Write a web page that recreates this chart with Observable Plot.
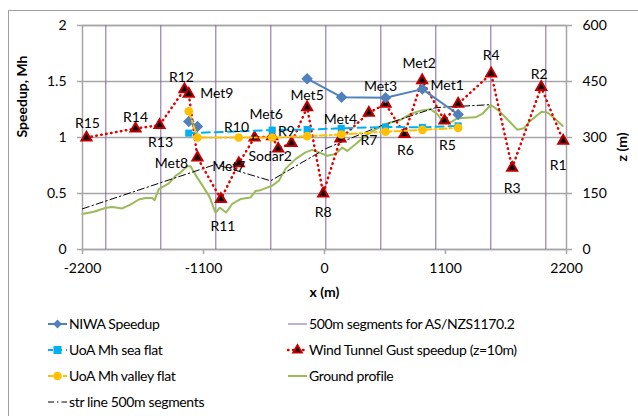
<!DOCTYPE html>
<html>
<head>
<meta charset="utf-8">
<script src="https://cdn.jsdelivr.net/npm/d3@7"></script>
<script src="https://cdn.jsdelivr.net/npm/@observablehq/plot@0.6"></script>
<style>
  body { margin: 0; background: #fff; }
  #wrap { position: relative; width: 638px; height: 416px; overflow: hidden; font-family: Lato, sans-serif; }
  #frame { position: absolute; left: 8px; top: 10px; width: 700px; height: 500px; border: 1px solid #a0a0a0; }
  #chart { position: absolute; left: 0; top: 0; }
  #legend { position: absolute; left: 0; top: 310px; }
</style>
</head>
<body>
<div id="wrap"><div id="frame"></div><div id="chart"></div><svg id="legend" width="638" height="106"></svg></div>
<script>
// ---------- data ----------
const xTicks = [-2200, -1100, 0, 1100, 2200];
const speedTicks = [0, 0.5, 1, 1.5, 2];
const zPerSpeed = 300; // right axis: 0..600 m

// Wind Tunnel Gust speedup (z=10m)
const windNames = ["R15","R14","R13","R12","Met9","Met8","R11","Met7","R10","Met6","Sodar2","R9","Met5","R8","Met4","R7","Met3","R6","Met2","R5","Met1","R4","R3","R2","R1"];
const windX = [-2164,-1718,-1500,-1273,-1234,-1155,-942,-779,-636,-476,-421,-300,-158,-12,145,403,555,727,888,1091,1215,1515,1706,1970,2170];
const windY = [1.00,1.08,1.11,1.43,1.39,0.82,0.45,0.77,1.00,1.01,0.90,0.95,1.27,0.50,0.99,1.22,1.30,1.03,1.51,1.15,1.30,1.57,0.73,1.45,0.97];

// NIWA Speedup (null = gap)
const niwaX = [-1234,-1155,null,-158,155,555,890,1215];
const niwaY = [1.143,1.098,null,1.525,1.360,1.355,1.432,1.205];

// UoA Mh sea flat
const seaX = [-1234,-476,-158,152,555,890,1215];
const seaY = [1.039,1.066,1.071,1.082,1.094,1.090,1.104];

// UoA Mh valley flat
const valleyX = [-1234,-1155,-779,-476,-158,152,555,890,1215];
const valleyY = [1.235,1.000,1.000,1.000,1.012,1.027,1.052,1.068,1.086];

// Ground profile (z, m)
const groundX = [-2200,-2097,-1985,-1927,-1839,-1764,-1688,-1627,-1566,-1545,-1506,-1415,-1355,-1309,-1248,-1218,-1173,-1109,-1045,-991,-952,-894,-839,-764,-673,-627,-582,-475,-415,-355,-264,-173,-112,-52,24,100,161,206,282,373,464,555,600,691,782,873,964,1024,1070,1130,1206,1282,1373,1434,1512,1585,1661,1752,1812,1873,1973,2027,2100,2166];
const groundZ = [95,101,112,114,110,120,134,138,138,132,162,177,197,206,223,223,200,171,141,98,112,99,122,135,139,157,159,171,184,216,242,260,267,260,251,256,273,264,282,305,322,336,340,347,363,372,376,363,345,338,351,353,354,363,387,372,349,321,325,345,369,367,349,331];

// str line 500m segments (z, m)
const strX = [-2200,-990,-490,10,510,1010,1510];
const strZ = [109,228,184,270,331,380,388];

// 500m segments for AS/NZS1170.2
const segX = [-1988,-1488,-988,-488,12,512,1012,1512,2012];

// ---------- layout (label offsets in px) ----------
const labelOffset = {
  R15:[1,-14], R14:[0,-11], R13:[1,17], R12:[-3,-12], Met9:[28,0], Met8:[-26,6], R11:[2,27],
  Met7:[-10,3], R10:[-18,-10], Met6:[-6,-22], Sodar2:[-8,8], R9:[-5,-12], Met5:[0,-12], R8:[0,19],
  Met4:[0,-19], R7:[0,28], Met3:[-5,-17], R6:[1,16], Met2:[-3,-17], R5:[3,25], Met1:[-11,-18],
  R4:[0,-18], R3:[0,21], R2:[-2,-13], R1:[-5,25]
};

const wind = windNames.map((name, i) => ({name, x: windX[i], y: windY[i]}));
const niwa = niwaX.map((x, i) => ({x, y: niwaY[i]}));
const sea = seaX.map((x, i) => ({x, y: seaY[i]}));
const valley = valleyX.map((x, i) => ({x, y: valleyY[i]}));
const ground = groundX.map((x, i) => ({x, z: groundZ[i]}));
const str = strX.map((x, i) => ({x, z: strZ[i]}));

const C = {
  grid: "#a6a6a6", purple: "#7f65a4", green: "#9BBB59", niwa: "#4F81BD",
  sea: "#00B0F0", valley: "#FFC000", red: "#E00000", redDark: "#C00000"
};

const plot = Plot.plot({
  width: 638, height: 310,
  marginLeft: 82, marginRight: 72, marginTop: 25, marginBottom: 61,
  style: {fontFamily: "Lato, sans-serif", fontSize: "14px", color: "#000", background: "transparent", overflow: "visible"},
  x: {domain: [-2200, 2200]},
  y: {domain: [0, 2]},
  marks: [
    Plot.ruleY(speedTicks, {stroke: C.grid, strokeWidth: 1.5}),
    Plot.frame({stroke: C.grid, strokeWidth: 1.5}),
    Plot.ruleX(segX, {y1: 0, y2: 2, stroke: C.purple, strokeWidth: 1}),
    Plot.line(ground, {x: "x", y: d => d.z / zPerSpeed, stroke: C.green, strokeWidth: 2}),
    Plot.line(str, {x: "x", y: d => d.z / zPerSpeed, stroke: "#000", strokeWidth: 1, strokeDasharray: "7,3,1.5,3"}),
    Plot.line(wind, {x: "x", y: "y", stroke: C.red, strokeWidth: 2.5, strokeDasharray: "0.5,4.5", strokeLinecap: "round"}),
    Plot.dot(wind, {x: "x", y: "y", symbol: "triangle2", r: 4.8, fill: "#000", stroke: C.redDark, strokeWidth: 2}),
    Plot.line(niwa, {x: "x", y: "y", stroke: C.niwa, strokeWidth: 2}),
    Plot.dot(niwa, {x: "x", y: "y", symbol: "diamond2", r: 4.2, fill: C.niwa, stroke: C.niwa}),
    Plot.line(sea, {x: "x", y: "y", stroke: C.sea, strokeWidth: 2, strokeDasharray: "8,5"}),
    Plot.dot(sea, {x: "x", y: "y", symbol: "square", r: 4, fill: C.sea}),
    Plot.line(valley, {x: "x", y: "y", stroke: C.valley, strokeWidth: 2, strokeDasharray: "7,3,2,3"}),
    Plot.dot(valley, {x: "x", y: "y", r: 4.3, fill: C.valley}),
    ...wind.map(d => Plot.text([d], {x: "x", y: "y", text: "name", dx: labelOffset[d.name][0], dy: labelOffset[d.name][1], fill: "#000"})),
    Plot.axisX({ticks: xTicks, tickFormat: d => String(d), tickSize: 5, tickPadding: 9, stroke: C.grid, strokeWidth: 1.5, fill: "#000", label: null}),
    Plot.axisY({ticks: speedTicks, tickFormat: d => String(d), tickSize: 5, tickPadding: 11, stroke: C.grid, strokeWidth: 1.5, fill: "#000", label: null}),
    Plot.axisY({anchor: "right", ticks: speedTicks, tickFormat: d => String(Math.round(d * zPerSpeed)), tickSize: 5, tickPadding: 11, stroke: C.grid, strokeWidth: 1.5, fill: "#000", label: null}),
    Plot.text(["Speedup, Mh"], {frameAnchor: "left", dx: -60, rotate: -90, fontWeight: "bold", fill: "#000"}),
    Plot.text(["z (m)"], {frameAnchor: "right", dx: 56, dy: -5, rotate: -90, fontWeight: "bold", fill: "#000"}),
    Plot.text(["x (m)"], {frameAnchor: "bottom", dy: 47, fontWeight: "bold", fill: "#000"})
  ]
});
document.getElementById("chart").appendChild(plot);

// ---------- legend ----------
const legendItems = [
  {label: "NIWA Speedup", kind: "niwa", col: 0, row: 0},
  {label: "UoA Mh sea flat", kind: "sea", col: 0, row: 1},
  {label: "UoA Mh valley flat", kind: "valley", col: 0, row: 2},
  {label: "str line 500m segments", kind: "str", col: 0, row: 3},
  {label: "500m segments for AS/NZS1170.2", kind: "seg", col: 1, row: 0},
  {label: "Wind Tunnel Gust speedup (z=10m)", kind: "wind", col: 1, row: 1},
  {label: "Ground profile", kind: "ground", col: 1, row: 2}
];
const colX = [48, 288];
const rowY = [14, 40, 66, 92];
const lg = d3.select("#legend");
for (const it of legendItems) {
  const x0 = colX[it.col], y = rowY[it.row];
  const g = lg.append("g");
  const line = (stroke, w, dash, cap) => g.append("line").attr("x1", x0).attr("x2", x0 + 19).attr("y1", y).attr("y2", y)
    .attr("stroke", stroke).attr("stroke-width", w).attr("stroke-dasharray", dash || null).attr("stroke-linecap", cap || null);
  const cx = x0 + 9.5;
  if (it.kind === "niwa") {
    line(C.niwa, 2);
    g.append("path").attr("d", d3.symbol(d3.symbolDiamond2, 50)()).attr("transform", `translate(${cx},${y})`).attr("fill", C.niwa);
  } else if (it.kind === "sea") {
    line(C.sea, 2, "5,4");
    g.append("rect").attr("x", cx - 4).attr("y", y - 4).attr("width", 8).attr("height", 8).attr("fill", C.sea);
  } else if (it.kind === "valley") {
    line(C.valley, 2, "5,4,2,4");
    g.append("circle").attr("cx", cx).attr("cy", y).attr("r", 4.3).attr("fill", C.valley);
  } else if (it.kind === "str") {
    line("#000", 1, "6,3,1.5,3");
  } else if (it.kind === "seg") {
    line(C.purple, 1);
  } else if (it.kind === "wind") {
    line(C.red, 2.5, "0.5,4.5", "round");
    g.append("path").attr("d", d3.symbol(d3.symbolTriangle2, 50)()).attr("transform", `translate(${cx},${y})`)
      .attr("fill", "#000").attr("stroke", C.redDark).attr("stroke-width", 2);
  } else if (it.kind === "ground") {
    line(C.green, 2);
  }
  g.append("text").attr("x", x0 + 21).attr("y", y).attr("dy", "0.35em")
    .attr("font-family", "Lato, sans-serif").attr("font-size", 14).attr("letter-spacing", "-0.35px")
    .attr("fill", "#000").text(it.label);
}
</script>
</body>
</html>
